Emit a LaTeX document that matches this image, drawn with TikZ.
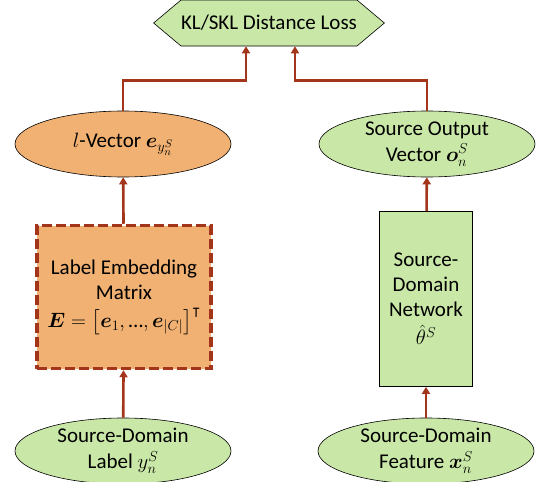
\documentclass[tikz,border=0pt]{standalone}
\usepackage{fontspec}
\setmainfont{Carlito}
\usepackage{amsmath,amssymb,bm}
\usetikzlibrary{arrows.meta,positioning,shapes.geometric,shapes.symbols}
\definecolor{vecgreen}{HTML}{C9E7A7}
\definecolor{embtan}{HTML}{F0B172}
\definecolor{rust}{HTML}{A3361A}
\tikzset{
    lossbox/.style={
    signal,signal to=west and east,signal pointer angle=80,draw=black,semithick,fill=vecgreen,
    minimum width=227pt,minimum height=46pt,inner sep=0pt
    },
    gvec/.style={
    ellipse,draw=black,semithick,fill=vecgreen,minimum width=216pt,minimum height=66pt,inner sep=0pt,align=center
    },
    tvec/.style={
    ellipse,draw=black,semithick,fill=embtan,minimum width=216pt,minimum height=66pt,inner sep=0pt,align=center
    },
    embbox/.style={
    rectangle,draw=rust,line width=3.5pt,dash pattern=on 10pt off 4pt,fill=embtan,minimum width=174pt,minimum height=143pt,align=center
    },
    netbox/.style={
    rectangle,draw=black,thick,fill=vecgreen,minimum width=93pt,minimum height=175pt,align=center,inner sep=0pt
    },
  line/.style={draw=rust, line width=2.6pt, -{Triangle[width=8pt,length=7pt]}},
}

\begin{document}
\begin{tikzpicture}[x=1pt,y=-1pt,font=\fontsize{21pt}{25pt}\selectfont]
\useasboundingbox (0,0) rectangle (542,482);

  \node[lossbox] (loss) at (269,23) {KL/SKL Distance Loss};
  \node[tvec] (lvec) at (123,144) {$l$-Vector $\bm{e}_{y_n^S}$};
  \node[gvec] (ovec) at (427,144) {Source Output\\[1pt]Vector $\bm{o}_n^S$};
  \node[embbox] (emb) at (124,297) {Label Embedding\\Matrix\\[3pt]$\bm{E}=\left[\bm{e}_1,\text{…},\bm{e}_{|C|}\right]^{\intercal}$};
  \node[netbox] (net) at (426,299) {Source-\\Domain\\Network\\[3pt]$\hat{\theta}^S$};
  \node[gvec] (lbl) at (123,451) {Source-Domain\\[1pt]Label $y_n^S$};
  \node[gvec] (feat) at (426,451) {Source-Domain\\[1pt]Feature $\bm{x}_n^S$};

  \path[line] (lbl) -- (emb);
  \path[line] (emb) -- (lvec);
  \path[line] (feat) -- (net);
  \path[line] (net) -- (ovec);
  \path[line] (lvec.north) -- ++(0,-30) -| ([xshift=-23pt]loss.south);
  \path[line] (ovec.north) -- ++(0,-30) -| ([xshift=26pt]loss.south);
\end{tikzpicture}
\end{document}
